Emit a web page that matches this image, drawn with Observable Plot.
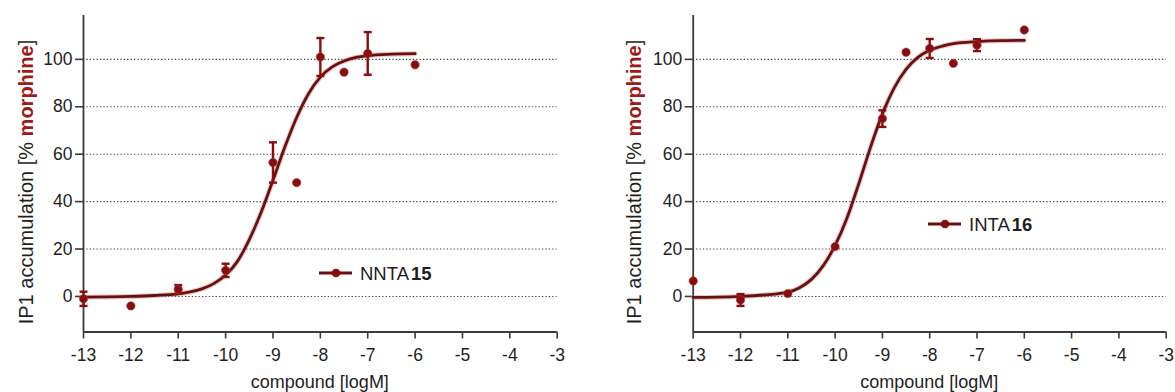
<!DOCTYPE html>
<html>
<head>
<meta charset="utf-8">
<script src="https://cdn.jsdelivr.net/npm/d3@7"></script>
<script src="https://cdn.jsdelivr.net/npm/@observablehq/plot@0.6"></script>
<style>
  html, body { margin: 0; padding: 0; background: #fff; }
  #wrap { display: flex; width: 1175px; height: 392px; }
  svg { font-family: "Liberation Sans", Arial, sans-serif; }
</style>
</head>
<body>
<div id="wrap"></div>
<script>
// ---------- data ----------
const xTicks = [-13, -12, -11, -10, -9, -8, -7, -6, -5, -4, -3];
const yTicks = [0, 20, 40, 60, 80, 100];

// NNTA 15 measured points (log conc, % morphine, SEM)
const nntaX   = [-13, -12, -11, -10, -9, -8.5, -8, -7.5, -7, -6];
const nntaY   = [-1, -4, 3, 11, 56.5, 48, 101, 94.6, 102.5, 97.7];
const nntaErr = [3, 0, 1.8, 2.8, 8.5, 0, 8, 0, 9, 0];
// NNTA 15 fitted curve
const nntaFitX = [-13, -12.5, -12, -11.5, -11, -10.75, -10.5, -10.25, -10, -9.75, -9.5, -9.25, -9, -8.75, -8.5, -8.25, -8, -7.75, -7.5, -7.25, -7, -6.5, -6];
const nntaFitY = [-0.3, -0.2, 0, 0.4, 1.1, 1.9, 3.2, 5.4, 9, 14.8, 24, 35.5, 49, 63, 75.5, 85.5, 92.5, 96.8, 99.3, 100.8, 101.6, 102.2, 102.4];

// INTA 16 measured points
const intaX   = [-13, -12, -11, -10, -9, -8.5, -8, -7.5, -7, -6];
const intaY   = [6.5, -1.5, 1.2, 21, 75, 103, 104.6, 98.3, 106, 112.4];
const intaErr = [0, 2.5, 0, 0, 3.5, 0, 4, 0, 2.5, 0];
// INTA 16 fitted curve
const intaFitX = [-13, -12.5, -12, -11.5, -11, -10.75, -10.5, -10.25, -10, -9.75, -9.5, -9.25, -9, -8.75, -8.5, -8.25, -8, -7.75, -7.5, -7, -6.5, -6];
const intaFitY = [-0.4, -0.3, 0, 0.6, 1.8, 3.7, 7.2, 13, 21.5, 33, 47.5, 63, 77, 88, 95.8, 100.8, 103.8, 105.5, 106.6, 107.5, 107.9, 108];

const panels = [
  {name: "NNTA", num: "15", x: nntaX, y: nntaY, e: nntaErr, fx: nntaFitX, fy: nntaFitY,
   width: 587, marginLeft: 83, marginRight: 30.3, labelX: 33, legX: 319, legY: 273},
  {name: "INTA", num: "16", x: intaX, y: intaY, e: intaErr, fx: intaFitX, fy: intaFitY,
   width: 588, marginLeft: 105.7, marginRight: 9.3, labelX: 54, legX: 341, legY: 224}
];

const RED = "#8a0c0c";
const CURVE = "#6a0f0f";
const TEXT = "#1e1e1e";

const capSymbol = {
  draw(context) { context.moveTo(-4, 0); context.lineTo(4, 0); }
};

for (const p of panels) {
  const pts = p.x.map((x, i) => ({x, y: p.y[i], e: p.e[i]}));
  const errs = pts.filter(d => d.e > 0);
  const fit = p.fx.map((x, i) => ({x, y: p.fy[i]}));

  const chart = Plot.plot({
    width: p.width,
    height: 392,
    marginLeft: p.marginLeft,
    marginRight: p.marginRight,
    marginTop: 15,
    marginBottom: 60.5,
    style: {fontFamily: "Liberation Sans, Arial, sans-serif", fontSize: "17.5px", color: TEXT, background: "white"},
    x: {domain: [-13, -3]},
    y: {domain: [-15, 118.5]},
    marks: [
      Plot.gridY(yTicks, {stroke: "#222", strokeOpacity: 0.85, strokeWidth: 1.1, strokeDasharray: "1.3 2.1"}),
      Plot.axisY({ticks: yTicks, tickSize: 8, tickPadding: 3, label: null, tickFormat: d => String(d), stroke: "#3a3a3a", strokeWidth: 1.6, fontSize: 17.5}),
      Plot.axisX({ticks: xTicks, tickSize: 7, tickPadding: 10, label: null, tickFormat: d => String(d), stroke: "#3a3a3a", strokeWidth: 1.6, fontSize: 17.5}),
      Plot.ruleX([-13], {stroke: "#3a3a3a", strokeWidth: 1.8}),
      Plot.ruleY([-15], {stroke: "#3a3a3a", strokeWidth: 1.8}),
      Plot.line(fit, {x: "x", y: "y", curve: "monotone-x", stroke: "#c98a8a", strokeOpacity: 0.45, strokeWidth: 5}),
      Plot.line(fit, {x: "x", y: "y", curve: "monotone-x", stroke: CURVE, strokeWidth: 2.8}),
      Plot.ruleX(errs, {x: "x", y1: d => d.y - d.e, y2: d => d.y + d.e, stroke: RED, strokeWidth: 2.4}),
      Plot.dot(errs, {x: "x", y: d => d.y + d.e, symbol: capSymbol, stroke: RED, strokeWidth: 2.4, r: 4}),
      Plot.dot(errs, {x: "x", y: d => d.y - d.e, symbol: capSymbol, stroke: RED, strokeWidth: 2.4, r: 4}),
      Plot.dot(pts, {x: "x", y: "y", r: 4.2, fill: RED, stroke: "#a84040", strokeWidth: 0.6})
    ]
  });

  const svg = d3.select(chart);
  // y-axis title with bold red "morphine"
  const t = svg.append("text")
    .attr("transform", `translate(${p.labelX},182) rotate(-90)`)
    .attr("text-anchor", "middle")
    .attr("font-size", 20)
    .attr("fill", TEXT);
  t.append("tspan").text("IP1 accumulation [% ");
  t.append("tspan").attr("font-weight", "bold").attr("fill", "#9b1a1a").text("morphine");
  t.append("tspan").text("]");

  // x-axis title
  const x0 = p.marginLeft, x1 = p.width - p.marginRight;
  svg.append("text")
    .attr("x", (x0 + x1) / 2).attr("y", 388)
    .attr("text-anchor", "middle").attr("font-size", 18).attr("fill", TEXT)
    .text("compound [logM]");

  // legend
  const g = svg.append("g").attr("transform", `translate(${p.legX},${p.legY})`);
  g.append("line").attr("x1", 0).attr("x2", 33).attr("y1", 0).attr("y2", 0)
    .attr("stroke", CURVE).attr("stroke-width", 2.8);
  g.append("circle").attr("cx", 17).attr("cy", 0).attr("r", 4.3).attr("fill", RED);
  const lt = g.append("text").attr("x", 41).attr("y", 6.5)
    .attr("text-anchor", "start").attr("font-size", 18.5).attr("fill", TEXT);
  lt.append("tspan").text(p.name);
  lt.append("tspan").attr("font-weight", "bold").attr("dx", 2).text(p.num);

  document.getElementById("wrap").appendChild(chart);
}
</script>
</body>
</html>
